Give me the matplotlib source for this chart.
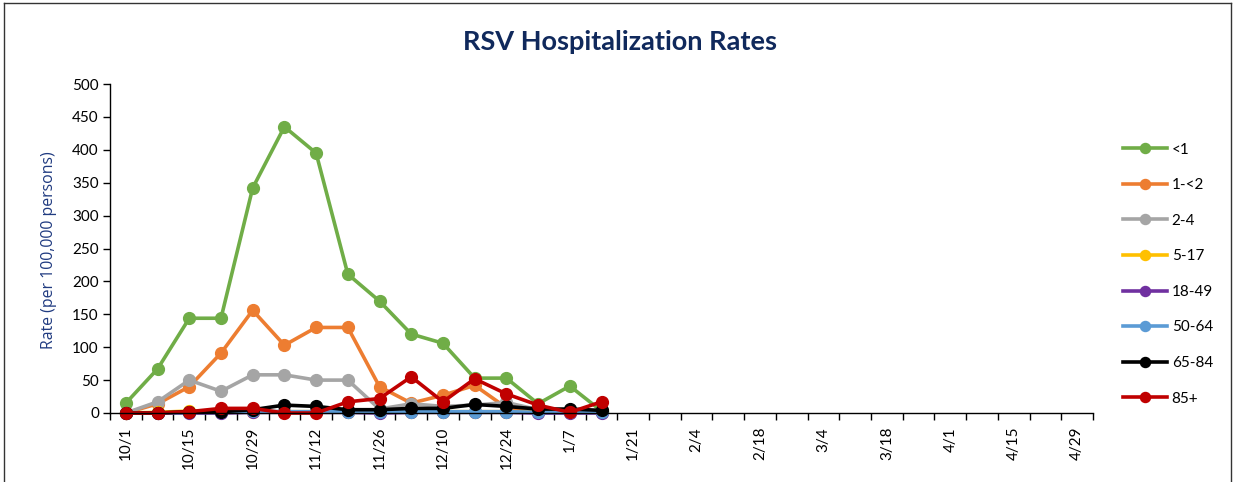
import matplotlib
matplotlib.use("Agg")
import matplotlib.pyplot as plt
from matplotlib.lines import Line2D
import numpy as np

plt.rcParams['font.family'] = ['Lato', 'DejaVu Sans']

# ---- data ----
week_labels = ["10/1", "10/8", "10/15", "10/22", "10/29", "11/5", "11/12", "11/19",
               "11/26", "12/3", "12/10", "12/17", "12/24", "12/31", "1/7", "1/14",
               "1/21", "1/28", "2/4", "2/11", "2/18", "2/25", "3/4", "3/11",
               "3/18", "3/25", "4/1", "4/8", "4/15", "4/22", "4/29"]
series_names = ["<1", "1-<2", "2-4", "5-17", "18-49", "50-64", "65-84", "85+"]
rate_lt1 = [15, 67, 144, 144, 342, 435, 395, 211, 170, 120, 106, 53, 53, 14, 41, 3]
rate_1_2 = [0, 14, 40, 91, 156, 103, 130, 130, 40, 15, 27, 42, 8, 5, 2, 2]
rate_2_4 = [0, 17, 50, 33, 58, 58, 50, 50, 6, 14, 10, 12, 16, 5, 3, 2]
rate_5_17 = [0, 1, 3, 2, 2, 2, 2, 2, 1, 2, 2, 2, 2, 1, 1, 1]
rate_18_49 = [0, 0, 0, 0, 1, 1, 1, 1, 0, 1, 1, 1, 1, 0, 0, 0]
rate_50_64 = [0, 0, 1, 1, 3, 2, 2, 2, 2, 2, 2, 2, 2, 1, 1, 1]
rate_65_84 = [0, 0, 2, 2, 5, 12, 10, 5, 5, 7, 7, 13, 10, 6, 6, 4]
rate_85p = [0, 0, 2, 7, 7, 0, 0, 17, 22, 55, 17, 52, 29, 12, 1, 17]

colors = ["#70AD47", "#ED7D31", "#A5A5A5", "#FFC000", "#7030A0", "#5B9BD5", "#000000", "#C00000"]
all_series = [rate_lt1, rate_1_2, rate_2_4, rate_5_17, rate_18_49, rate_50_64, rate_65_84, rate_85p]

title_navy = "#10295C"
label_navy = "#1F3A80"

fig = plt.figure(figsize=(12.35, 4.82), dpi=100)
ax = fig.add_axes([110/1235, 1-413/482, (1093-110)/1235, (413-84)/482])

handles = []
for name, vals, c in zip(series_names, all_series, colors):
    x = np.arange(len(vals))
    ln, = ax.plot(x, vals, color=c, lw=2.6, marker='o', markersize=8.5,
                  markeredgecolor=c, markerfacecolor=c, label=name, clip_on=False)
    handles.append(ln)

ax.set_xlim(-0.5, len(week_labels) - 0.5)
ax.set_ylim(0, 500)
ax.set_yticks(np.arange(0, 501, 50))
ax.tick_params(axis='y', direction='out', length=5, width=1, labelsize=11, pad=3, color='black')
ax.set_xticks(np.arange(0, len(week_labels), 2))
ax.set_xticklabels(week_labels[::2], rotation=90, fontsize=11)
ax.tick_params(axis='x', which='major', length=0, pad=10)
ax.set_xticks(np.arange(-0.5, len(week_labels), 1), minor=True)
ax.tick_params(axis='x', which='minor', direction='out', length=5, width=1)
for s in ['top', 'right']:
    ax.spines[s].set_visible(False)
for s in ['left', 'bottom']:
    ax.spines[s].set_linewidth(1)
    ax.spines[s].set_color('black')

fig.text(49/1235, 1-250/482, "Rate (per 100,000 persons)", rotation=90, ha='center', va='center',
         color=label_navy, fontsize=11.4, family=['Open Sans', 'DejaVu Sans'])

fig.text(620/1235, 1-42/482, "RSV Hospitalization Rates", ha='center', va='center',
         fontsize=19.5, fontweight='bold', color=title_navy)

leg = fig.legend(handles=handles, loc='upper left', bbox_to_anchor=(1109/1235, 1-129/482),
                 frameon=False, fontsize=11, handlelength=2.9, labelspacing=1.41,
                 handletextpad=0.3, markerscale=0.85)

# outer border
for xs, ys in [([0.003, 0.997], [0.993, 0.993]), ([0.003, 0.003], [0, 0.993]),
               ([0.997, 0.997], [0, 0.993])]:
    fig.add_artist(Line2D(xs, ys, color='#333333', lw=1, transform=fig.transFigure))

fig.savefig("out.png", dpi=100)
